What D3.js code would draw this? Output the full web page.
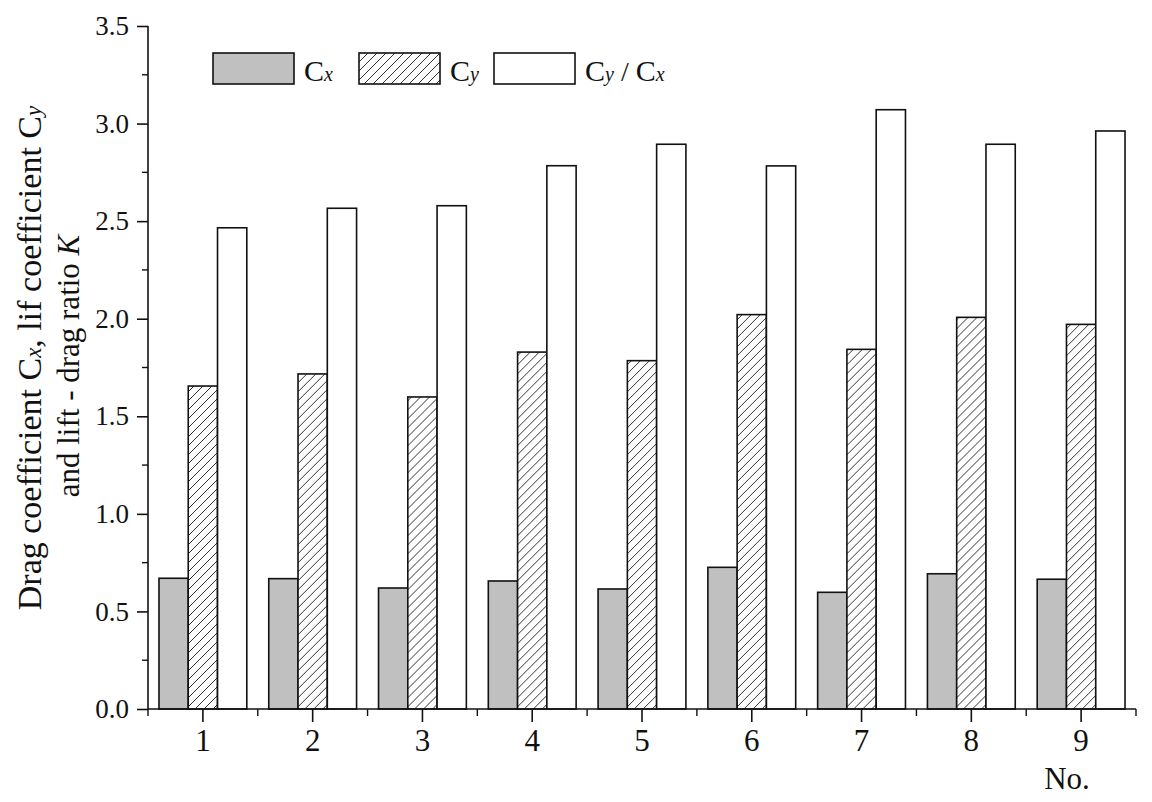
<!DOCTYPE html>
<html>
<head>
<meta charset="utf-8">
<script src="https://cdn.jsdelivr.net/npm/d3@7"></script>
<style>
  html, body { margin: 0; padding: 0; background: #fff; }
  svg { display: block; }
  text { font-family: "Liberation Serif", "Times New Roman", serif; fill: #111; }
</style>
</head>
<body>
<svg id="chart" width="1152" height="802"></svg>
<script>
// ---- data ----
const categories = ["1", "2", "3", "4", "5", "6", "7", "8", "9"];
const cxValues   = [0.670, 0.668, 0.620, 0.656, 0.615, 0.726, 0.598, 0.693, 0.665];
const cyValues   = [1.655, 1.717, 1.599, 1.829, 1.785, 2.021, 1.843, 2.007, 1.971];
const kValues    = [2.466, 2.566, 2.579, 2.784, 2.894, 2.783, 3.071, 2.894, 2.962];
const seriesKeys = ["cx", "cy", "k"];
const yTicks = [0, 0.5, 1.0, 1.5, 2.0, 2.5, 3.0, 3.5];

const svg = d3.select("#chart");
const pLeft = 148, pRight = 1136, pTop = 26, pBottom = 709;

const x = d3.scaleBand().domain(categories).range([pLeft, pRight]).paddingInner(0).paddingOuter(0);
const xs = d3.scaleBand().domain(seriesKeys).range([x.bandwidth() * 0.1, x.bandwidth() * 0.9]).padding(0);
const y = d3.scaleLinear().domain([0, 3.5]).range([pBottom, pTop]);

// hatch pattern
const defs = svg.append("defs");
const pat = defs.append("pattern")
  .attr("id", "hatch").attr("patternUnits", "userSpaceOnUse")
  .attr("width", 9).attr("height", 9);
pat.append("rect").attr("width", 9).attr("height", 9).attr("fill", "#fff");
pat.append("path").attr("d", "M-1,10 L10,-1 M-2,2 L2,-2 M7,11 L11,7")
  .attr("stroke", "#333").attr("stroke-width", 1);

const fills = { cx: "#c0c0c0", cy: "url(#hatch)", k: "#ffffff" };

const rows = categories.map((c, i) => ({ cat: c, cx: cxValues[i], cy: cyValues[i], k: kValues[i] }));

const groups = svg.append("g").selectAll("g").data(rows).join("g")
  .attr("transform", d => `translate(${x(d.cat)},0)`);

groups.selectAll("rect").data(d => seriesKeys.map(k => ({ key: k, value: d[k] }))).join("rect")
  .attr("x", d => xs(d.key))
  .attr("width", xs.bandwidth())
  .attr("y", d => y(d.value))
  .attr("height", d => y(0) - y(d.value))
  .attr("fill", d => fills[d.key])
  .attr("stroke", "#111").attr("stroke-width", 1.6);

// ---- axes ----
const axisG = svg.append("g");
axisG.append("line").attr("x1", pLeft).attr("x2", pLeft).attr("y1", pTop).attr("y2", pBottom + 0.5)
  .attr("stroke", "#111").attr("stroke-width", 1.6);
axisG.append("line").attr("x1", pLeft).attr("x2", pRight).attr("y1", pBottom).attr("y2", pBottom)
  .attr("stroke", "#111").attr("stroke-width", 1.6);

// y major ticks
const yAxis = d3.axisLeft(y).tickValues(yTicks).tickFormat(d3.format(".1f")).tickSize(11).tickPadding(8);
const yg = svg.append("g").attr("transform", `translate(${pLeft},0)`).call(yAxis);
yg.select(".domain").remove();
yg.selectAll(".tick line").attr("stroke", "#111").attr("stroke-width", 1.6);
yg.selectAll(".tick text").attr("font-size", 27).attr("font-family", "Liberation Serif").attr("fill", "#111");

// y minor ticks
const yMinor = d3.range(0.25, 3.5, 0.5);
svg.append("g").selectAll("line").data(yMinor).join("line")
  .attr("x1", pLeft - 6).attr("x2", pLeft).attr("y1", d => y(d)).attr("y2", d => y(d))
  .attr("stroke", "#111").attr("stroke-width", 1.4);

// x major ticks at category centers
const xAxis = d3.axisBottom(x).tickSize(13).tickPadding(7);
const xg = svg.append("g").attr("transform", `translate(0,${pBottom})`).call(xAxis);
xg.select(".domain").remove();
xg.selectAll(".tick line").attr("stroke", "#111").attr("stroke-width", 1.6);
xg.selectAll(".tick text").attr("font-size", 31).attr("font-family", "Liberation Serif").attr("fill", "#111");

// x minor ticks at band boundaries
const xMinor = categories.map(c => x(c)).concat([x(categories[categories.length - 1]) + x.bandwidth()]);
svg.append("g").selectAll("line").data(xMinor).join("line")
  .attr("x1", d => d).attr("x2", d => d).attr("y1", pBottom).attr("y2", pBottom + 7)
  .attr("stroke", "#111").attr("stroke-width", 1.4);

// x axis title
svg.append("text").attr("x", 1067).attr("y", 789).attr("text-anchor", "middle")
  .attr("font-size", 31).text("No.");

// y axis title (two lines)
const yt = svg.append("text").attr("transform", "translate(41,358) rotate(-90)")
  .attr("text-anchor", "middle").attr("font-size", 34);
yt.append("tspan").text("Drag coefficient C");
yt.append("tspan").attr("font-style", "italic").attr("font-size", 23).text("x");
yt.append("tspan").text(", lif coefficient C");
yt.append("tspan").attr("font-style", "italic").attr("font-size", 23).text("y");

const yt2 = svg.append("text").attr("transform", "translate(79,366) rotate(-90)")
  .attr("text-anchor", "middle").attr("font-size", 31);
yt2.append("tspan").text("and lift - drag ratio ");
yt2.append("tspan").attr("font-style", "italic").text("K");

// ---- legend ----
const legendItems = [
  { key: "cx", x: 213, parts: [["C", 30, "normal"], ["x", 20]] },
  { key: "cy", x: 359, parts: [["C", 30, "normal"], ["y", 20]] },
  { key: "k",  x: 494, parts: [["C", 30, "normal"], ["y", 20], [" / ", 28, "normal"], ["C", 30, "normal"], ["x", 20]] }
];
const lg = svg.append("g").selectAll("g").data(legendItems).join("g")
  .attr("transform", d => `translate(${d.x},53)`);
lg.append("rect").attr("width", 81).attr("height", 31)
  .attr("fill", d => fills[d.key]).attr("stroke", "#111").attr("stroke-width", 1.6);
lg.each(function(d) {
  const t = d3.select(this).append("text").attr("x", 91).attr("y", 28);
  d.parts.forEach(p => {
    t.append("tspan").attr("font-size", p[1]).attr("font-style", p[2] || "italic").text(p[0]);
  });
});
</script>
</body>
</html>
